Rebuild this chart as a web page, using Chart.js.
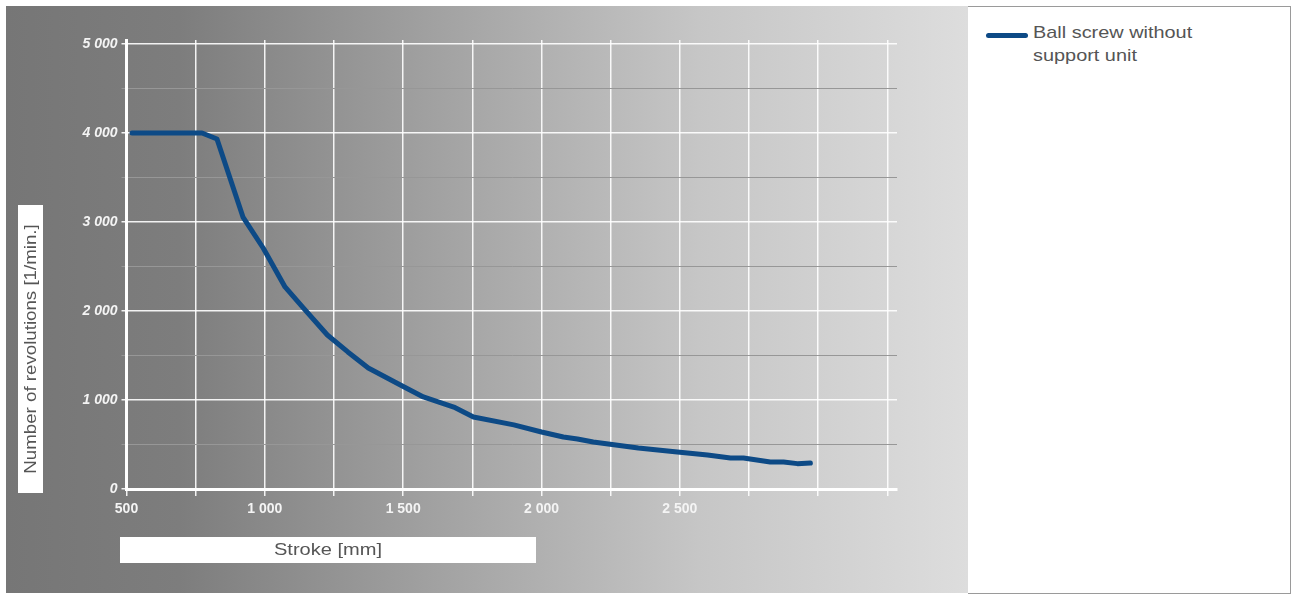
<!DOCTYPE html>
<html>
<head>
<meta charset="utf-8">
<script src="https://cdn.jsdelivr.net/npm/chart.js@4"></script>
<style>
  body { margin: 0; background: #fff; width: 1293px; height: 595px; position: relative; overflow: hidden; }
  #panel {
    position: absolute; left: 6px; top: 6px; width: 962px; height: 587px;
    background: linear-gradient(to right, #767676 0%, #7d7d7d 18%, #a2a2a2 45%, #c6c6c6 72%, #dddddd 100%);
  }
  #legend {
    position: absolute; left: 968px; top: 6px; width: 322px; height: 586px;
    border: 1px solid #9a9a9a; border-left: none; background: #fff;
    font-family: "Liberation Sans", Arial, sans-serif; font-size: 17px; color: #555; line-height: 23px;
  }
  #legend .swatch { position: absolute; left: 18px; top: 26px; width: 42px; height: 5px; border-radius: 3px; background: #0d4a86; }
  #legend .text { position: absolute; left: 65px; top: 14px; transform: scaleX(1.17); transform-origin: left top; white-space: nowrap; }
</style>
</head>
<body>
<div id="panel"><canvas id="chart" width="962" height="587"></canvas></div>
<div id="legend"><div class="swatch"></div><div class="text" id="legendText"></div></div>
<script>
const seriesName = ['Ball screw without', 'support unit'];
const strokeMm = [520, 773, 827, 921, 994, 1073, 1139, 1226, 1300, 1374, 1490, 1573, 1683, 1754, 1900, 2000, 2079, 2130, 2187, 2350, 2491, 2600, 2683, 2730, 2827, 2875, 2925, 2972];
const revolutions = [4000, 4000, 3933, 3056, 2708, 2270, 2034, 1730, 1540, 1360, 1169, 1034, 921, 809, 720, 640, 584, 562, 528, 461, 416, 382, 348, 348, 303, 303, 285, 292];
const xTicks = [500, 750, 1000, 1250, 1500, 1750, 2000, 2250, 2500, 2750, 3000, 3250];
const xLabelled = [500, 1000, 1500, 2000, 2500];
const yTicks = [0, 500, 1000, 1500, 2000, 2500, 3000, 3500, 4000, 4500, 5000];
const yLabelled = [0, 1000, 2000, 3000, 4000, 5000];
const xTitle = 'Stroke [mm]';
const yTitle = 'Number of revolutions [1/min.]';

document.getElementById('legendText').innerHTML = seriesName.join('<br>');

const fmt = v => String(v).replace(/\B(?=(\d{3})+(?!\d))/g, ' ');

// white boxes behind the axis titles
const titleBoxes = {
  id: 'titleBoxes',
  afterDraw(chart) {
    const { ctx, chartArea } = chart;
    ctx.save();
    ctx.font = '17px "Liberation Sans", Arial, sans-serif';
    ctx.textAlign = 'center';
    ctx.textBaseline = 'middle';

    ctx.fillStyle = '#fff';
    ctx.fillRect(chartArea.left - 6.5, chartArea.bottom + 48, 416, 26);
    ctx.save();
    ctx.translate(chartArea.left - 6.5 + 208, chartArea.bottom + 61.5);
    ctx.scale(1.18, 1);
    ctx.fillStyle = '#555';
    ctx.fillText(xTitle, 0, 0);
    ctx.restore();

    ctx.fillStyle = '#fff';
    ctx.fillRect(chartArea.left - 108.5, chartArea.bottom - 284, 25, 288);
    ctx.translate(chartArea.left - 95.5, chartArea.bottom - 140);
    ctx.rotate(-Math.PI / 2);
    ctx.scale(1.1, 1);
    ctx.fillStyle = '#555';
    ctx.fillText(yTitle, 0, 0);
    ctx.restore();
  }
};

const tickFont = { family: '"Liberation Sans", Arial, sans-serif', size: 14, weight: 'bold' };
const isMajor = c => c.tick && yLabelled.includes(c.tick.value);

new Chart(document.getElementById('chart'), {
  type: 'line',
  data: {
    datasets: [{
      label: seriesName.join(' '),
      data: strokeMm.map((x, i) => ({ x: x, y: revolutions[i] })),
      borderColor: '#0d4a86',
      borderWidth: 5,
      borderCapStyle: 'round',
      borderJoinStyle: 'round',
      pointRadius: 0,
      tension: 0,
      fill: false
    }]
  },
  options: {
    responsive: false,
    animation: false,
    layout: { padding: { top: 34, right: 71, left: 0, bottom: 0 } },
    plugins: { legend: { display: false }, tooltip: { enabled: false } },
    scales: {
      x: {
        type: 'linear',
        min: 500,
        max: 3285,
        afterFit(scale) { scale.height = 104; },
        afterBuildTicks(scale) { scale.ticks = xTicks.map(v => ({ value: v })); },
        border: { color: '#fff', width: 3 },
        grid: { color: 'rgba(255,255,255,0.9)', lineWidth: 1.5, tickLength: 7 },
        ticks: {
          maxRotation: 0,
          autoSkip: false,
          padding: 5,
          color: '#f4f4f4',
          font: tickFont,
          callback: v => xLabelled.includes(v) ? fmt(v) : ''
        }
      },
      y: {
        min: 0,
        max: 5045,
        afterFit(scale) { scale.width = 120.5; },
        afterBuildTicks(scale) { scale.ticks = yTicks.map(v => ({ value: v })); },
        border: { color: '#fff', width: 3 },
        grid: {
          color: c => isMajor(c) ? 'rgba(255,255,255,0.9)' : '#979797',
          lineWidth: c => isMajor(c) ? 1.5 : 1,
          tickLength: 5
        },
        ticks: {
          autoSkip: false,
          padding: 4,
          color: '#f4f4f4',
          font: { ...tickFont, style: 'italic' },
          callback: v => yLabelled.includes(v) ? fmt(v) : ''
        }
      }
    }
  },
  plugins: [titleBoxes]
});
</script>
</body>
</html>
